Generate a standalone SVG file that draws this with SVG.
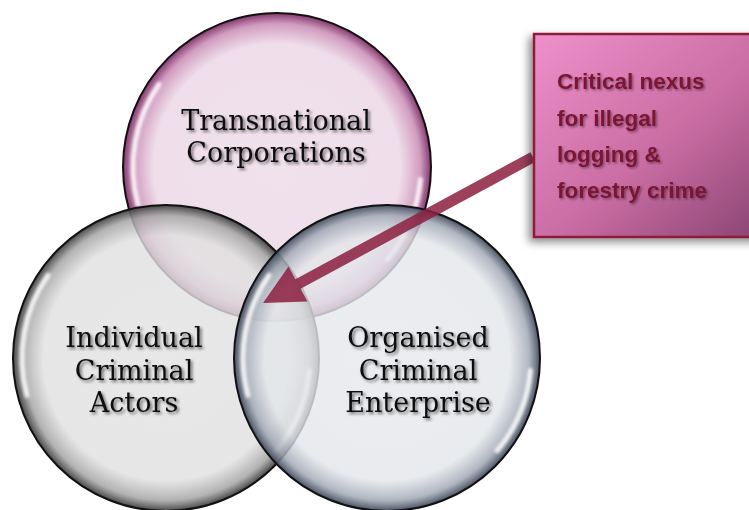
<svg xmlns="http://www.w3.org/2000/svg" width="749" height="510" viewBox="0 0 749 510">
<defs>
<style>
.lbl{font-family:"DejaVu Serif","Liberation Serif",serif;font-size:27px;fill:#111;text-anchor:middle;filter:url(#tshadow)}
.box{font-family:"Liberation Sans",Arial,sans-serif;font-weight:bold;font-size:22.5px;fill:#7A1430;filter:url(#bshadow)}
.ring{stroke:#111;stroke-width:2}
.hl{fill:none;stroke:#fff;stroke-width:5;stroke-linecap:round;opacity:0.85;filter:url(#blur)}
</style>
<radialGradient id="gTop" cx="50%" cy="50%" r="50%">
<stop offset="0" stop-color="#EDDAE7" stop-opacity="0.8"/>
<stop offset="0.8" stop-color="#EBD6E4" stop-opacity="0.8"/>
<stop offset="0.93" stop-color="#C98AB5" stop-opacity="0.85"/>
<stop offset="1" stop-color="#7A2C63" stop-opacity="0.95"/>
</radialGradient>
<radialGradient id="gLeft" cx="50%" cy="50%" r="50%">
<stop offset="0" stop-color="#E2E2E2" stop-opacity="0.8"/>
<stop offset="0.8" stop-color="#E0E0E0" stop-opacity="0.8"/>
<stop offset="0.93" stop-color="#A5A5A5" stop-opacity="0.85"/>
<stop offset="1" stop-color="#3E3E3E" stop-opacity="0.95"/>
</radialGradient>
<radialGradient id="gRight" cx="50%" cy="50%" r="50%">
<stop offset="0" stop-color="#E6E8EC" stop-opacity="0.8"/>
<stop offset="0.8" stop-color="#E3E6EA" stop-opacity="0.8"/>
<stop offset="0.93" stop-color="#A2A9B6" stop-opacity="0.85"/>
<stop offset="1" stop-color="#414A5C" stop-opacity="0.95"/>
</radialGradient>
<linearGradient id="gBox" x1="0" y1="0" x2="1" y2="1">
<stop offset="0" stop-color="#EE90CA"/>
<stop offset="0.55" stop-color="#C96CA3"/>
<stop offset="1" stop-color="#864270"/>
</linearGradient>
<filter id="tshadow" x="-10%" y="-30%" width="120%" height="160%">
<feDropShadow dx="2" dy="2" stdDeviation="1.5" flood-color="#000" flood-opacity="0.55"/>
</filter>
<filter id="bshadow" x="-10%" y="-30%" width="120%" height="160%">
<feDropShadow dx="1.5" dy="1.5" stdDeviation="1.2" flood-color="#000" flood-opacity="0.4"/>
</filter>
<filter id="rshadow" x="-20%" y="-20%" width="140%" height="140%">
<feDropShadow dx="-4" dy="4" stdDeviation="4" flood-color="#000" flood-opacity="0.45"/>
</filter>
<filter id="blur" x="-20%" y="-20%" width="140%" height="140%">
<feGaussianBlur stdDeviation="1.8"/>
</filter>
</defs>
<rect width="749" height="510" fill="#fff"/>
<g id="node-transnational">
<circle class="ring" cx="277" cy="167" r="154" fill="url(#gTop)"/>
<path class="hl" d="M159 84.3 A144 144 0 0 0 137.9 204.3"/>
<path class="hl" d="M420.4 179.5 A144 144 0 0 1 387.3 259.6"/>
</g>
<g id="node-individual">
<circle class="ring" cx="166" cy="358" r="153" fill="url(#gLeft)"/>
<path class="hl" d="M48 275.3 A144 144 0 0 0 26.9 395.3"/>
<path class="hl" d="M309.4 370.5 A144 144 0 0 1 276.3 450.6"/>
</g>
<g id="node-organised">
<circle class="ring" cx="387" cy="358" r="153" fill="url(#gRight)"/>
<path class="hl" d="M269 275.3 A144 144 0 0 0 247.9 395.3"/>
<path class="hl" d="M530.4 370.5 A144 144 0 0 1 497.3 450.6"/>
</g>
<g id="labels">
<text class="lbl" x="276" y="130">Transnational</text>
<text class="lbl" x="276" y="162">Corporations</text>
<text class="lbl" x="134" y="347">Individual</text>
<text class="lbl" x="134" y="379.5">Criminal</text>
<text class="lbl" x="134" y="412">Actors</text>
<text class="lbl" x="418" y="347">Organised</text>
<text class="lbl" x="418" y="379.5">Criminal</text>
<text class="lbl" x="418" y="412">Enterprise</text>
</g>
<g id="connectors">
<polygon points="530.4,152.2 535.6,161.8 300.6,288.8 307.5,301.6 263,303 288.5,266.4 295.4,279.2" fill="#8B1E3F" fill-opacity="0.85"/>
</g>
<g id="node-nexus">
<rect x="534" y="34" width="240" height="203" fill="url(#gBox)" stroke="#8B1A3A" stroke-width="2.5" filter="url(#rshadow)"/>
<text class="box" x="557" y="89">Critical nexus</text>
<text class="box" x="557" y="126">for illegal</text>
<text class="box" x="557" y="162">logging &amp;</text>
<text class="box" x="557" y="198">forestry crime</text>
</g>
</svg>
